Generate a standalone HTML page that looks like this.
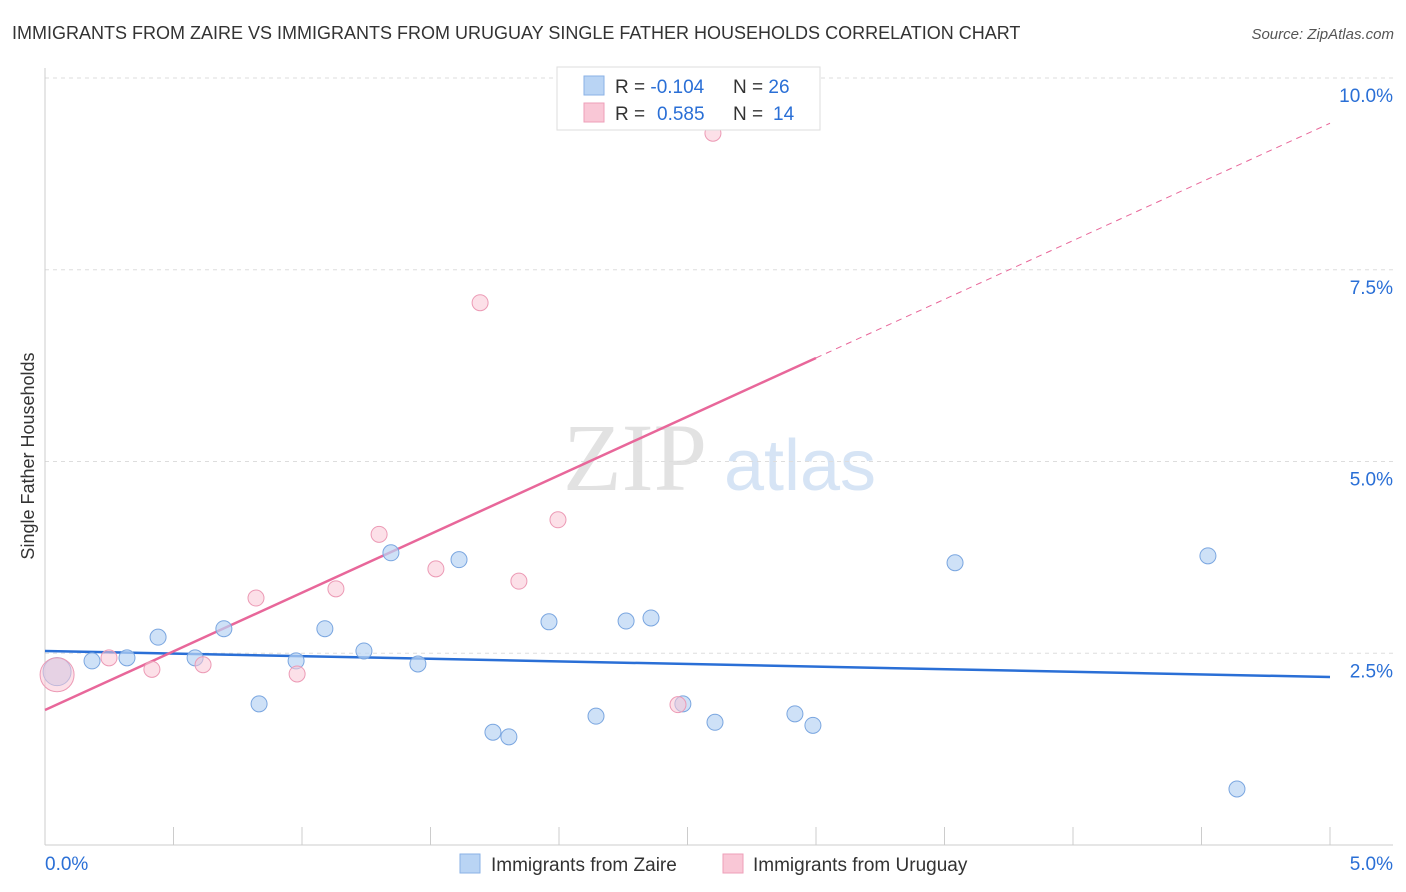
<!DOCTYPE html>
<html><head><meta charset="utf-8"><style>
body{margin:0;background:#fff;font-family:"Liberation Sans",sans-serif;}
svg{display:block}
</style></head><body>
<svg id="chart" width="1406" height="892">
<text x="12" y="39" font-size="18" fill="#333">IMMIGRANTS FROM ZAIRE VS IMMIGRANTS FROM URUGUAY SINGLE FATHER HOUSEHOLDS CORRELATION CHART</text>
<text x="1394" y="39" font-size="15" fill="#555" font-style="italic" text-anchor="end">Source: ZipAtlas.com</text>
<text x="34" y="456" font-size="18" fill="#333" text-anchor="middle" transform="rotate(-90 34 456)">Single Father Households</text>
<g>
<text x="635" y="490" font-size="96" fill="#e2e2e2" font-family="Liberation Serif,serif" text-anchor="middle">ZIP</text>
<text x="800" y="490" font-size="72" fill="#d6e4f5" text-anchor="middle">atlas</text>
</g>
<g id="grid"></g><g id="axes"></g><g id="lines"></g><g id="pts"></g>
<g>
<rect x="557" y="67" width="263" height="63" fill="#fff" stroke="#ddd"/>
<rect x="584" y="76" width="20" height="19" fill="#b9d4f4" stroke="#8ab2e6"/>
<rect x="584" y="103" width="20" height="19" fill="#f9c7d6" stroke="#ee9fb8"/>
<text x="615" y="93" font-size="19" fill="#333">R = <tspan fill="#2a6fd6">-0.104</tspan><tspan x="733">N = </tspan><tspan fill="#2a6fd6">26</tspan></text>
<text x="615" y="120" font-size="19" fill="#333">R = <tspan x="657" fill="#2a6fd6">0.585</tspan><tspan x="733">N = </tspan><tspan x="773" fill="#2a6fd6">14</tspan></text>
</g>
<g>
<rect x="460" y="854" width="20" height="19" fill="#b9d4f4" stroke="#8ab2e6"/>
<text x="491" y="871" font-size="19" fill="#333">Immigrants from Zaire</text>
<rect x="723" y="854" width="20" height="19" fill="#f9c7d6" stroke="#ee9fb8"/>
<text x="753" y="871" font-size="19" fill="#333">Immigrants from Uruguay</text>
</g>
</svg>
<script>
const yTicks=[2.5,5.0,7.5,10.0];
const yTickLabels=["2.5%","5.0%","7.5%","10.0%"];
const zaireX=[0.047,0.183,0.319,0.44,0.584,0.696,0.833,0.977,1.089,1.241,1.346,1.451,1.611,1.743,1.805,1.961,2.144,2.261,2.358,2.482,2.607,2.918,2.988,3.541,4.525,4.638];
const zaireY=[2.26,2.40,2.44,2.71,2.44,2.82,1.84,2.40,2.82,2.53,3.81,2.36,3.72,1.47,1.41,2.91,1.68,2.92,2.96,1.84,1.60,1.71,1.56,3.68,3.77,0.73];
const uruguayX=[0.047,0.249,0.416,0.615,0.821,0.981,1.132,1.3,1.521,1.693,1.844,1.996,2.463,2.599];
const uruguayY=[2.22,2.44,2.29,2.35,3.22,2.23,3.34,4.05,3.60,7.07,3.44,4.24,1.83,9.28];
const zaireTrend=[2.53,2.19];
const uruguayTrend=[1.76,1.53];
const NS="http://www.w3.org/2000/svg";
const X=v=>45+v*257, Y=v=>845-v*76.7;
function mk(p,t,a){const e=document.createElementNS(NS,t);for(const k in a)e.setAttribute(k,a[k]);p.appendChild(e);return e;}
const grid=document.getElementById('grid'),axes=document.getElementById('axes'),lines=document.getElementById('lines'),pts=document.getElementById('pts');
yTicks.forEach((t,i)=>{
 const l=mk(grid,'line',{x1:45,x2:1393,y1:Y(t),y2:Y(t),stroke:'#ddd','stroke-dasharray':'4,4'});
 
 
 const tx=mk(axes,'text',{x:1393,y:Y(t)+24,'font-size':19,fill:'#2a6fd6','text-anchor':'end'});
 tx.textContent=yTickLabels[i];
 
 
});
mk(axes,'line',{x1:45,x2:45,y1:68,y2:845,stroke:'#ccc'});
mk(axes,'line',{x1:45,x2:1393,y1:845,y2:845,stroke:'#ccc'});
for(let i=1;i<=10;i++){const x=X(i*0.5);mk(axes,'line',{x1:x,x2:x,y1:827,y2:845,stroke:'#ccc'});}
const x0=mk(axes,'text',{x:45,y:870,'font-size':19,fill:'#2a6fd6'});x0.textContent='0.0%';


const x5=mk(axes,'text',{x:1393,y:870,'font-size':19,fill:'#2a6fd6','text-anchor':'end'});x5.textContent='5.0%';


const bl=mk(lines,'line',{x1:X(0),y1:Y(zaireTrend[0]),x2:X(5),y2:Y(zaireTrend[1]),stroke:'#2a6fd6','stroke-width':2.5});


const pe=uruguayTrend[0]+uruguayTrend[1]*3.0;
const pl=mk(lines,'line',{x1:X(0),y1:Y(uruguayTrend[0]),x2:X(3.0),y2:Y(pe),stroke:'#e8679a','stroke-width':2.5});


const pd=mk(lines,'line',{x1:X(3.0),y1:Y(pe),x2:X(5),y2:Y(uruguayTrend[0]+uruguayTrend[1]*5),stroke:'#e8679a','stroke-width':1,'stroke-dasharray':'6,5'});


zaireX.forEach((x,i)=>{const c=mk(pts,'circle',{cx:X(x),cy:Y(zaireY[i]),r:i==0?14:8,fill:'rgba(185,212,244,0.7)',stroke:'#7aa6e0','stroke-width':1});
 
 });
uruguayX.forEach((x,i)=>{const c=mk(pts,'circle',{cx:X(x),cy:Y(uruguayY[i]),r:i==0?17:8,fill:'rgba(249,199,214,0.55)',stroke:'#ec9ab5','stroke-width':1});
 
 });
</script>
</body></html>
